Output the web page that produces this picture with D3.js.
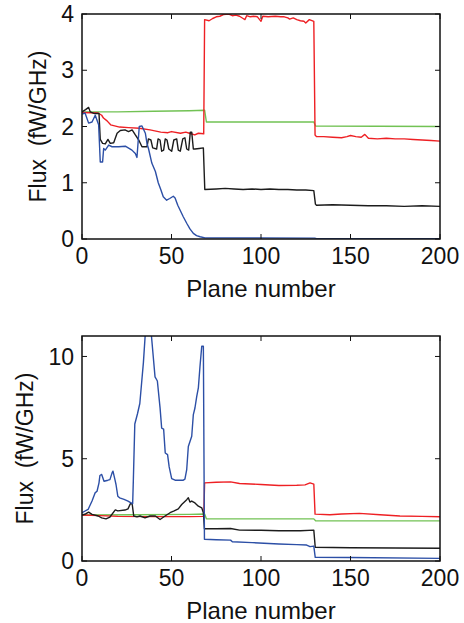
<!DOCTYPE html>
<html>
<head>
<meta charset="utf-8">
<script src="https://cdn.jsdelivr.net/npm/d3@7"></script>
<style>
  html, body { margin: 0; padding: 0; background: #fff; }
  svg text { font-family: "Liberation Sans", Arial, sans-serif; fill: #111; }
</style>
</head>
<body>
<div id="chart"></div>
<script>
// [plane, flux] pairs
const topGreen = [[0, 2.26], [20, 2.26], [40, 2.27], [60, 2.28], [68.5, 2.29], [69.5, 2.08],
  [100, 2.08], [129.5, 2.08], [130.5, 2.01], [200, 2.0]];
const topRed = [[0, 2.25], [9, 2.24], [11, 2.2], [12, 2.15], [14, 2.1], [16, 2.03], [21, 1.99],
  [26, 1.98], [32, 1.97], [38, 1.94], [44, 1.9], [48, 1.89], [50, 1.91], [55, 1.88], [58, 1.9],
  [60, 1.88], [63, 1.85], [65, 1.88], [68, 1.87], [68.5, 3.9], [71, 3.88], [73, 3.92], [75, 3.95],
  [77, 3.96], [79, 3.99], [82, 4.0], [84, 3.97], [86, 3.98], [88, 3.96], [90, 3.92], [91, 3.9],
  [92, 3.97], [94, 3.95], [96, 3.96], [98, 3.95], [100, 3.87], [101, 3.96], [104, 3.95],
  [108, 3.96], [111, 3.95], [113, 3.95], [115, 3.93], [116, 3.91], [118, 3.93], [120, 3.9],
  [122, 3.88], [124, 3.87], [125, 3.84], [127, 3.9], [129.5, 3.87], [130.2, 1.85], [131, 1.82],
  [135, 1.82], [140, 1.81], [145, 1.8], [148, 1.82], [150, 1.84], [153, 1.82], [156, 1.81],
  [158, 1.86], [160, 1.79], [165, 1.78], [170, 1.79], [175, 1.78], [180, 1.78], [185, 1.77],
  [190, 1.76], [195, 1.75], [200, 1.74]];
const topBlack = [[0, 2.26], [2, 2.3], [3.7, 2.34], [4.6, 2.26], [7, 2.23], [9.5, 2.23],
  [10.2, 1.77], [11.5, 1.7], [13, 1.69], [14.5, 1.77], [15.8, 1.7], [17.7, 1.71], [19.6, 1.88],
  [21.4, 1.93], [24, 1.94], [26, 1.91], [28, 1.94], [29.8, 1.85], [31.7, 1.76], [33.5, 1.64],
  [36.3, 1.64], [37.1, 1.78], [38.5, 1.76], [39.5, 1.62], [41.7, 1.6], [42.5, 1.78],
  [43.6, 1.76], [44.5, 1.56], [45.6, 1.58], [46.5, 1.78], [47.5, 1.76], [48.5, 1.6],
  [50.1, 1.56], [51.3, 1.76], [52.9, 1.78], [53.8, 1.58], [54.9, 1.56], [56.3, 1.78],
  [57.5, 1.8], [58.5, 1.6], [59.6, 1.58], [60.5, 1.9], [61.3, 1.9], [62.2, 1.6], [63.1, 1.6],
  [65.5, 1.61], [67.8, 1.62], [68.6, 0.88], [75, 0.89], [80, 0.9], [85, 0.89], [90, 0.88],
  [95, 0.89], [100, 0.88], [105, 0.89], [110, 0.88], [115, 0.88], [120, 0.87], [125, 0.87],
  [129.5, 0.86], [130.4, 0.62], [131, 0.6], [140, 0.61], [150, 0.6], [160, 0.59], [170, 0.59],
  [180, 0.58], [190, 0.59], [200, 0.58]];
const topBlue = [[0, 2.22], [1.7, 2.24], [3.7, 2.06], [5.6, 2.08], [7.4, 2.2], [9.3, 2.03],
  [10.2, 1.37], [11.5, 1.37], [12.1, 1.61], [13, 1.58], [14.9, 1.67], [16.8, 1.64], [20.5, 1.64],
  [24.2, 1.65], [27.9, 1.58], [29.8, 1.52], [30.7, 1.45], [32, 2.0], [33.5, 2.01], [35.4, 1.88],
  [36.3, 1.7], [37.2, 1.6], [39, 1.35], [41, 1.2], [42.6, 1.0], [44, 0.88], [45.4, 0.75],
  [47.3, 0.69], [49, 0.72], [51, 0.76], [52, 0.73], [53.5, 0.6], [54.7, 0.52], [56.5, 0.4],
  [58.5, 0.28], [60.3, 0.18], [62.2, 0.1], [64, 0.06], [66, 0.04], [68.7, 0.02], [100, 0.02],
  [130, 0.015], [131, 0.005], [200, 0.005]];

const botGreen = [[0, 2.25], [30, 2.26], [60, 2.28], [68.5, 2.3], [69.5, 2.06], [100, 2.06],
  [129.5, 2.06], [130.5, 1.97], [200, 1.96]];
const botRed = [[0, 2.25], [10, 2.22], [20, 2.18], [40, 2.17], [60, 2.17], [68, 2.18],
  [68.5, 3.82], [75, 3.85], [83, 3.87], [88, 3.79], [100, 3.74], [110, 3.69], [120, 3.7],
  [124.6, 3.72], [127.4, 3.82], [129.5, 3.76], [130.2, 2.29], [138.5, 2.26], [145, 2.3],
  [155, 2.33], [166.5, 2.26], [177.6, 2.2], [190, 2.18], [200, 2.16]];
const botBlack = [[0, 2.25], [2, 2.3], [3.7, 2.39], [5.6, 2.28], [9, 2.2], [11, 2.11],
  [13.4, 2.06], [15.6, 2.15], [18.6, 2.5], [20, 2.45], [24, 2.49], [25.7, 2.55], [27, 2.8],
  [28, 2.81], [28.9, 2.2], [30.7, 2.16], [32.4, 2.2], [35.2, 2.11], [38, 2.2], [41, 2.2],
  [43.6, 2.03], [46.4, 2.2], [49.2, 2.36], [51.5, 2.45], [53.8, 2.55], [55.7, 2.76],
  [58.5, 3.0], [59.4, 3.09], [60.3, 2.88], [61.3, 2.93], [63.1, 2.84], [65, 2.68], [66.9, 2.6],
  [67.8, 2.36], [68.4, 1.58], [75, 1.58], [83, 1.59], [88, 1.51], [100, 1.5], [110, 1.48],
  [122, 1.48], [129.5, 1.51], [130.3, 0.67], [150, 0.65], [200, 0.62]];
const botBlue = [[0, 2.36], [3.4, 2.52], [5.6, 2.93], [7.3, 3.33], [8.4, 3.41], [9.5, 3.82],
  [10, 4.18], [11, 4.23], [12.3, 3.9], [14.5, 3.95], [15.6, 3.98], [16.8, 4.31], [17.3, 4.39],
  [18.4, 3.98], [19, 3.74], [20, 3.17], [21, 3.09], [23.5, 3.01], [25.7, 2.93], [27.4, 2.84],
  [28.3, 2.8], [28.7, 4.0], [29.5, 6.7], [31, 7.2], [32.3, 7.7], [33.3, 8.7], [34.3, 9.7],
  [35.5, 11.3], [38.5, 11.3], [39.8, 10.0], [40.8, 9.0], [42.1, 8.8], [43.6, 7.5], [44.5, 6.5],
  [45.6, 6.45], [46.5, 5.28], [47.8, 5.2], [48.7, 4.6], [50.1, 4.03], [52, 3.95], [56.6, 3.95],
  [57.5, 4.0], [58.5, 4.47], [59.4, 5.6], [61.3, 6.1], [62.2, 7.16], [63.1, 7.48], [64.1, 8.05],
  [65, 8.46], [65.9, 9.5], [66.9, 10.5], [67.8, 10.5], [68.4, 1.06], [75, 1.04], [83, 1.02],
  [84, 0.94], [95, 0.9], [110, 0.83], [120, 0.8], [125.5, 0.78], [127.4, 0.7], [129.5, 0.73],
  [130.3, 0.18], [150, 0.17], [200, 0.13]];

const xTicks = [0, 50, 100, 150, 200];
const topYTicks = [0, 1, 2, 3, 4];
const botYTicks = [0, 5, 10];

const colors = { blue: '#2c4fa6', black: '#1c1c1c', red: '#ee2024', green: '#72c254' };

const W = 464;
const H = 623;
const svg = d3.select('#chart').append('svg')
  .attr('width', W)
  .attr('height', H);

function drawPanel(top, bottom, yMax, yTicks, series, id) {
  const left = 82;
  const right = 440;
  const x = d3.scaleLinear().domain([0, 200]).range([left, right]);
  const y = d3.scaleLinear().domain([0, yMax]).range([bottom, top]);
  const g = svg.append('g');

  g.append('clipPath').attr('id', id)
    .append('rect')
    .attr('x', left).attr('y', top)
    .attr('width', right - left).attr('height', bottom - top);

  const line = d3.line().x(d => x(d[0])).y(d => y(d[1]));
  series.forEach(s => {
    g.append('path')
      .attr('d', line(s.data))
      .attr('fill', 'none')
      .attr('stroke', s.color)
      .attr('stroke-width', 1.4)
      .attr('stroke-linejoin', 'round')
      .attr('clip-path', `url(#${id})`);
  });

  // inward ticks, mirrored on all four sides
  const tl = 5;
  xTicks.forEach(t => {
    g.append('line').attr('x1', x(t)).attr('x2', x(t))
      .attr('y1', bottom).attr('y2', bottom - tl).attr('stroke', '#111');
    g.append('line').attr('x1', x(t)).attr('x2', x(t))
      .attr('y1', top).attr('y2', top + tl).attr('stroke', '#111');
    g.append('text')
      .attr('x', x(t)).attr('y', bottom + 17)
      .attr('dy', '0.35em')
      .attr('text-anchor', 'middle')
      .attr('font-size', 23)
      .text(t);
  });
  yTicks.forEach(t => {
    g.append('line').attr('x1', left).attr('x2', left + tl)
      .attr('y1', y(t)).attr('y2', y(t)).attr('stroke', '#111');
    g.append('line').attr('x1', right).attr('x2', right - tl)
      .attr('y1', y(t)).attr('y2', y(t)).attr('stroke', '#111');
    g.append('text')
      .attr('x', left - 8).attr('y', y(t))
      .attr('dy', '0.35em')
      .attr('text-anchor', 'end')
      .attr('font-size', 23)
      .text(t);
  });

  g.append('rect')
    .attr('x', left).attr('y', top)
    .attr('width', right - left).attr('height', bottom - top)
    .attr('fill', 'none')
    .attr('stroke', '#111')
    .attr('stroke-width', 1.5);

  g.append('text')
    .attr('x', (left + right) / 2).attr('y', bottom + 50)
    .attr('dy', '0.35em')
    .attr('text-anchor', 'middle')
    .attr('font-size', 24)
    .text('Plane number');

  const labelX = yMax > 9.99 ? 25 : 38;
  g.append('text')
    .attr('transform', `translate(${labelX},${(top + bottom) / 2}) rotate(-90)`)
    .attr('dy', '0.35em')
    .attr('text-anchor', 'middle')
    .attr('font-size', 23)
    .attr('xml:space', 'preserve')
    .style('white-space', 'pre')
    .text('Flux  (fW/GHz)');
}

drawPanel(14, 239, 4, topYTicks, [
  { data: topGreen, color: colors.green },
  { data: topRed, color: colors.red },
  { data: topBlack, color: colors.black },
  { data: topBlue, color: colors.blue }
], 'clip-top');

drawPanel(336, 561, 11, botYTicks, [
  { data: botGreen, color: colors.green },
  { data: botRed, color: colors.red },
  { data: botBlack, color: colors.black },
  { data: botBlue, color: colors.blue }
], 'clip-bot');
</script>
</body>
</html>
